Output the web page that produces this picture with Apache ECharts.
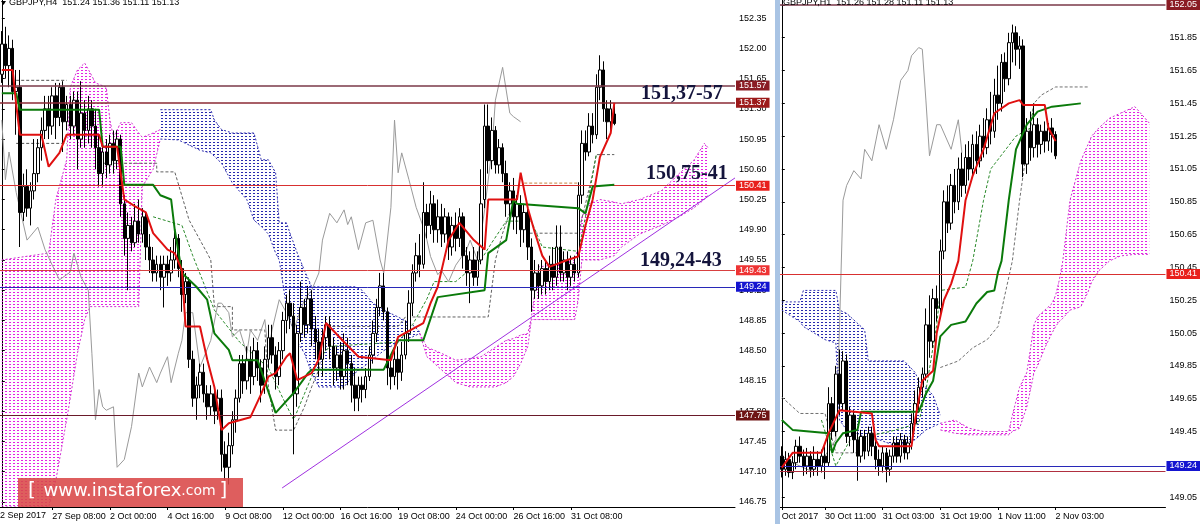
<!DOCTYPE html>
<html><head><meta charset="utf-8">
<script src="https://cdn.jsdelivr.net/npm/echarts@6/dist/echarts.min.js"></script>
<style>html,body{margin:0;padding:0;background:#fff;overflow:hidden}#c{width:1200px;height:524px}</style>
</head><body><div id="c"></div>
<script>
// ---------------- LEFT PANEL (GBPJPY H4) ----------------
const leftBarCount = 204;
const leftFirstLabel = '22 Sep 2017';
const leftTickIdx = [14, 30, 46, 62, 78, 94, 110, 126, 142, 158];
const leftTickText = ['27 Sep 08:00', '2 Oct 00:00', '4 Oct 16:00', '9 Oct 08:00', '12 Oct 00:00', '16 Oct 16:00', '19 Oct 08:00', '24 Oct 00:00', '26 Oct 16:00', '31 Oct 08:00'];
const leftPriceTicks = [152.35, 152.00, 151.65, 151.30, 150.95, 150.60, 150.25, 149.90, 149.55, 149.20, 148.85, 148.50, 148.15, 147.80, 147.45, 147.10, 146.75];
// [open, close, low, high]
const leftCandles = [
[151.70,152.05,151.60,152.20],[152.05,151.80,151.65,152.25],[151.80,152.00,151.55,152.15],[152.00,151.50,151.40,152.10],[151.50,151.55,151.00,151.75],
[151.55,150.10,149.70,151.75],[150.10,150.40,150.00,150.55],[150.40,150.15,150.05,150.60],[150.15,150.35,149.95,150.45],[150.35,150.55,150.25,150.95],
[150.55,150.85,150.45,150.95],[150.85,151.05,150.70,151.20],[151.05,151.30,150.95,151.45],[151.30,151.10,150.95,151.45],[151.10,151.45,151.00,151.55],
[151.45,151.20,150.95,151.60],[151.20,151.55,151.10,151.60],[151.55,151.15,150.80,151.62],[151.15,151.35,151.05,151.45],[151.35,151.10,150.95,151.45],
[151.10,151.40,151.00,151.50],[151.40,150.95,150.60,151.50],[150.95,151.25,150.85,151.62],[151.25,151.05,150.85,151.40],[151.05,151.30,150.90,151.45],
[151.30,151.10,150.85,151.40],[151.10,150.85,150.60,151.30],[150.85,150.55,150.40,151.00],[150.55,150.80,150.40,150.90],[150.80,150.65,150.50,150.95],
[150.65,150.90,150.55,151.00],[150.90,150.70,150.55,151.05],[150.70,150.95,150.60,151.05],[150.95,150.20,150.05,151.00],[150.20,149.80,149.60,150.30],
[149.80,149.95,149.20,150.10],[149.95,149.75,149.65,150.05],[149.75,150.00,149.70,150.20],[150.00,149.85,149.75,150.25],[149.85,150.05,149.75,150.15],
[150.05,149.70,149.55,150.10],[149.70,149.55,149.40,149.85],[149.55,149.40,149.30,149.70],[149.40,149.50,149.30,149.60],[149.50,149.35,149.20,149.60],
[149.35,149.50,149.00,149.60],[149.50,149.40,149.25,149.60],[149.40,149.55,149.30,149.70],[149.55,149.80,149.45,149.90],[149.80,149.45,149.35,149.85],
[149.45,149.15,148.95,149.55],[149.15,149.30,149.05,149.40],[149.30,148.40,148.30,149.35],[148.40,147.95,147.85,148.50],[147.95,148.10,147.70,148.20],
[148.10,148.25,147.95,148.35],[148.25,148.00,147.90,148.35],[148.00,147.85,147.70,148.10],[147.85,148.00,147.75,148.10],[148.00,147.80,147.65,148.05],
[147.80,147.95,147.70,148.05],[147.95,147.30,147.10,148.05],[147.30,147.15,147.00,147.45],[147.15,147.40,146.95,147.55],[147.40,147.70,147.30,147.80],
[147.70,147.95,147.55,148.05],[147.95,148.35,147.90,148.45],[148.35,148.15,148.00,148.45],[148.15,148.40,148.05,148.55],[148.40,148.20,148.00,148.55],
[148.20,148.50,148.10,148.65],[148.50,148.30,148.15,148.60],[148.30,148.10,147.90,148.40],[148.10,148.40,148.00,148.55],[148.40,148.65,148.30,148.80],
[148.65,148.45,148.35,148.80],[148.45,148.20,148.05,148.55],[148.20,148.50,148.10,148.60],[148.50,148.85,148.40,148.95],[148.85,149.05,148.70,149.15],
[149.05,148.90,148.75,149.20],[148.90,148.00,147.30,149.05],[148.00,148.70,147.85,148.80],[148.70,149.00,148.60,149.30],[149.00,148.80,148.65,149.10],
[148.80,149.10,148.70,149.25],[149.10,148.75,148.55,149.20],[148.75,148.60,148.40,148.90],[148.60,148.40,148.20,148.75],[148.40,148.65,148.20,148.75],
[148.65,148.80,148.50,148.90],[148.80,148.55,148.40,148.90],[148.55,148.30,148.10,148.65],[148.30,148.45,148.15,148.55],[148.45,148.20,148.05,148.60],
[148.20,148.50,148.05,148.70],[148.50,148.35,148.10,148.65],[148.35,148.10,147.90,148.45],[148.10,147.95,147.80,148.30],[147.95,148.10,147.80,148.20],
[148.10,148.05,147.90,148.20],[148.05,148.20,147.95,148.30],[148.20,148.45,148.15,148.55],[148.45,148.70,148.35,148.85],[148.70,149.00,148.60,149.10],
[149.00,149.25,148.90,149.40],[149.25,148.95,148.85,149.40],[148.95,148.30,148.10,149.00],[148.30,148.20,148.05,148.45],[148.20,148.40,148.10,148.50],
[148.40,148.25,148.05,148.55],[148.25,148.45,148.15,148.60],[148.45,148.70,148.40,148.85],[148.70,149.05,148.60,149.20],[149.05,149.40,148.90,149.50],
[149.40,149.60,149.30,149.75],[149.60,149.50,149.35,149.85],[149.50,150.10,149.45,150.45],[150.10,149.95,149.80,150.20],[149.95,150.20,149.85,150.35],
[150.20,149.90,149.75,150.30],[149.90,150.05,149.75,150.25],[150.05,149.85,149.70,150.20],[149.85,150.05,149.75,150.15],[150.05,149.70,149.55,150.10],
[149.70,149.95,149.60,150.05],[149.95,149.80,149.65,150.10],[149.80,150.05,149.70,150.15],[150.05,149.60,149.45,150.10],[149.60,149.40,149.25,149.70],
[149.40,149.55,149.05,149.65],[149.55,149.35,149.25,149.70],[149.35,149.55,149.25,149.65],[149.55,150.20,149.50,150.60],[150.25,151.10,150.15,151.35],
[151.10,150.70,150.55,151.35],[150.70,151.05,150.60,151.20],[151.05,150.65,150.55,151.10],[150.65,150.85,150.55,150.95],[150.85,150.55,150.45,150.90],
[150.55,150.20,150.05,150.70],[150.20,150.35,150.05,150.45],[150.35,150.05,149.90,150.50],[150.05,150.20,149.85,150.30],[150.20,149.90,149.70,150.30],
[149.90,150.10,149.75,150.20],[150.10,149.70,149.55,150.15],[149.70,149.20,148.95,149.80],[149.20,149.40,149.10,149.55],[149.40,149.25,149.10,149.50],
[149.25,149.45,149.15,149.55],[149.45,149.30,149.15,149.55],[149.30,149.50,149.20,149.60],[149.50,149.35,149.20,149.70],[149.35,149.70,149.25,149.95],
[149.70,149.40,149.30,149.95],[149.40,149.55,149.30,149.65],[149.55,149.35,149.20,149.65],[149.35,149.50,149.25,149.60],[149.50,149.40,149.30,149.60],
[149.40,150.30,149.35,150.45],[150.30,150.90,150.20,151.05],[150.90,150.80,150.70,151.05],[150.80,151.10,150.75,151.25],[151.10,151.00,150.90,151.25],
[151.00,151.55,150.95,151.70],[151.55,151.75,151.40,151.92],[151.75,151.30,151.15,151.85],[151.30,151.15,150.95,151.40],[151.15,151.30,151.05,151.40],
[151.24,151.13,151.11,151.36]
];
// [barIndex, price]
const leftTenkan = [[0,151.75],[3,151.75],[4,151.35],[5,151.00],[11,151.00],[13,150.63],[16,150.79],[18,151.00],[27,151.00],[28,150.86],[32,150.86],[34,150.25],[37,150.17],[40,150.10],[42,149.86],[46,149.67],[48,149.63],[50,149.43],[51,148.78],[55,148.78],[57,148.40],[59,148.08],[61,147.58],[63,147.66],[69,147.73],[72,148.00],[74,148.20],[76,148.24],[79,148.43],[80,148.47],[82,148.16],[86,148.24],[88,148.40],[90,148.82],[95,148.60],[99,148.43],[108,148.39],[110,148.66],[117,148.82],[119,149.05],[121,149.24],[124,149.78],[127,149.98],[131,149.78],[134,149.67],[135,150.25],[143,150.25],[144,150.56],[146,150.15],[148,149.86],[150,149.60],[152,149.47],[157,149.55],[160,149.59],[162,149.95],[164,150.25],[166,150.74],[169,151.02],[170,151.37]];
const leftKijun = [[0,151.48],[4,151.48],[5,151.29],[27,151.29],[28,150.86],[33,150.86],[34,150.42],[42,150.42],[44,150.30],[47,150.25],[48,149.90],[50,149.40],[54,149.24],[57,149.09],[59,148.70],[63,148.51],[64,148.39],[71,148.39],[76,147.78],[81,148.01],[85,148.24],[86,148.28],[106,148.28],[110,148.62],[117,148.62],[121,149.12],[134,149.20],[135,149.63],[140,149.78],[142,150.25],[143,150.20],[160,150.15],[162,150.09],[164,150.40],[170,150.42]];
const leftChikou = [[0,151.17],[1,150.48],[2,150.80],[4,150.33],[7,149.78],[10,149.93],[12,149.67],[14,149.49],[16,149.32],[19,149.41],[20,149.63],[22,149.35],[24,149.20],[25,148.47],[26,147.70],[27,148.05],[28,147.85],[29,147.81],[31,147.85],[32,147.15],[34,147.24],[36,147.62],[38,148.24],[39,148.08],[41,148.31],[43,148.13],[44,148.24],[46,148.43],[47,148.13],[49,148.47],[50,148.62],[51,148.94],[53,148.94],[55,148.31],[58,148.62],[60,149.05],[61,149.05],[63,148.94],[64,148.66],[66,148.74],[68,148.47],[69,148.74],[71,148.62],[73,148.86],[74,148.47],[75,148.74],[77,149.09],[79,148.94],[81,148.74],[84,149.09],[86,149.20],[88,149.40],[89,149.78],[91,150.09],[93,149.98],[95,150.13],[96,149.96],[97,150.05],[99,149.67],[101,149.98],[103,150.01],[105,149.55],[106,149.40],[108,150.16],[109,151.17],[110,150.56],[111,150.79],[113,150.48],[115,150.16],[117,149.93],[118,149.78],[119,149.59],[121,149.38],[122,149.43],[124,149.30],[126,149.49],[129,149.67],[130,149.78],[132,149.55],[134,150.13],[136,150.82],[137,151.40],[139,151.78],[141,151.25],[142,151.21],[144,151.15]];
// thin dashed helper lines
const leftDashGrayA = [[4,151.63],[18,151.63]];
const leftDashGrayB = [[4,150.90],[18,150.90]];
const leftDashGrayC = [[27,150.67],[43,150.67],[43,150.57],[48,150.57],[52,150.01],[57,149.63],[58,149.55],[59,149.01],[64,149.01],[64,148.74],[73,148.74],[74,148.08],[76,147.58],[81,147.58],[84,147.85],[86,148.08],[88,148.28],[90,148.78],[110,148.78],[112,148.89],[135,148.89],[137,149.55],[139,149.86],[141,150.10],[145,150.10],[146,149.86],[160,149.86],[162,150.20],[164,150.55],[165,150.77],[170,150.77]];
const leftDashGreen = [[42,150.05],[50,149.95],[53,149.60],[59,148.97],[66,148.60],[74,148.30],[78,147.95],[81,147.70],[84,148.00],[88,148.40],[91,148.55],[110,148.60],[114,148.80],[118,149.10],[120,149.30],[126,149.30],[133,149.55],[136,149.75],[140,150.00],[147,150.00],[150,149.70],[160,149.65],[162,150.05],[163,150.30],[165,150.77]];
const leftDashOrange = [[145,150.44],[160,150.44]];
// clouds: [barIndex, upper, lower]
const leftCloudPink1 = [[0,149.55,146.69],[13,149.63,146.69],[15,150.25,147.00],[18,150.71,147.70],[19,151.55,147.95],[21,151.75,148.47],[23,151.83,148.86],[24.5,151.72,149.01],[26,151.60,149.01],[29,151.55,149.01],[30,151.17,149.01],[31,150.97,149.01],[33,151.14,149.01],[36,151.14,149.01],[38,151.02,149.01],[39,150.97,150.40],[42,151.02,150.60],[44,151.06,150.95]];
const leftCloudBlue1 = [[44,151.29,150.95],[49,151.29,150.94],[55,151.29,150.82],[58,151.29,150.79],[59,151.17,150.75],[61,151.06,150.67],[64,151.02,150.44],[68,151.02,150.25],[70,151.02,150.01],[72,150.71,149.94],[74,150.71,149.85],[76,150.56,149.63],[77,149.98,149.55],[79,149.98,149.01],[80,149.86,148.85],[82,149.63,148.60],[84,149.43,148.47],[86,149.24,148.24],[88,149.24,148.08],[95,149.24,148.08],[98,149.24,148.24],[100,149.20,148.30],[103,149.05,148.40],[106,148.97,148.50],[110,148.89,148.60],[114,148.80,148.66],[116,148.72,148.70]];
const leftCloudPink2 = [[116,148.70,148.70],[118,148.54,148.43],[122,148.47,148.28],[126,148.39,148.13],[130,148.41,148.08],[133,148.43,148.08],[137,148.54,148.08],[140,148.62,148.13],[142,148.64,148.20],[144,148.68,148.35],[146,148.70,148.55],[147,148.89,148.86],[148,149.20,148.86],[149,149.47,148.86],[155,149.50,148.86],[159,149.55,148.86],[160,149.70,149.09],[161,150.05,149.55],[163,150.20,149.55],[166,150.25,149.55],[170,150.22,149.60],[172,150.20,149.70],[177,150.25,149.85],[183,150.35,149.95],[188,150.55,150.05],[192,150.70,150.15],[195,150.90,150.25],[196,150.85,150.30]];
const leftTrend = [[77.8,146.91],[203.5,150.50]];

// ---------------- RIGHT PANEL (GBPJPY H1) ----------------
const rightBarCount = 107;
const rightTickIdx = [0, 12, 28, 44, 60, 76];
const rightTickText = ['Oct 2017', '30 Oct 11:00', '31 Oct 03:00', '31 Oct 19:00', '1 Nov 11:00', '2 Nov 03:00'];
const rightPriceTicks = [152.05, 151.85, 151.65, 151.45, 151.25, 151.05, 150.85, 150.65, 150.45, 150.25, 150.05, 149.85, 149.65, 149.45, 149.25, 149.05];
const rightCandles = [
[149.30,149.22,149.17,149.36],[149.22,149.28,149.18,149.33],[149.28,149.20,149.17,149.32],[149.20,149.26,149.16,149.30],[149.26,149.36,149.22,149.40],
[149.36,149.30,149.26,149.42],[149.30,149.24,149.18,149.34],[149.24,149.30,149.19,149.35],[149.30,149.22,149.17,149.33],[149.22,149.28,149.18,149.36],
[149.28,149.24,149.18,149.33],[149.24,149.30,149.20,149.34],[149.30,149.26,149.16,149.36],[149.26,149.62,149.24,149.72],[149.62,149.45,149.40,149.66],
[149.45,149.80,149.42,149.85],[149.80,149.62,149.55,149.95],[149.62,149.88,149.58,149.94],[149.88,149.42,149.38,149.92],[149.42,149.55,149.36,149.60],
[149.55,149.40,149.32,149.58],[149.40,149.30,149.15,149.45],[149.30,149.42,149.26,149.46],[149.42,149.33,149.28,149.46],[149.33,149.44,149.30,149.48],
[149.44,149.36,149.30,149.48],[149.36,149.28,149.22,149.40],[149.28,149.24,149.18,149.34],[149.24,149.32,149.20,149.36],[149.32,149.22,149.14,149.35],
[149.22,149.30,149.18,149.34],[149.30,149.38,149.26,149.42],[149.38,149.30,149.26,149.42],[149.30,149.40,149.26,149.44],[149.40,149.32,149.28,149.43],
[149.32,149.38,149.28,149.42],[149.38,149.50,149.34,149.56],[149.50,149.62,149.46,149.70],[149.62,149.72,149.58,149.78],[149.72,149.80,149.66,149.84],
[149.80,150.10,149.76,150.20],[150.10,150.00,149.90,150.28],[150.00,150.26,149.96,150.32],[150.26,150.20,150.12,150.34],[150.20,150.55,150.16,150.62],
[150.55,150.85,150.50,150.92],[150.85,150.72,150.66,150.95],[150.72,150.95,150.68,151.02],[150.95,150.85,150.78,151.05],[150.85,151.05,150.80,151.12],
[151.05,150.95,150.88,151.15],[150.95,151.12,150.90,151.20],[151.12,151.05,150.98,151.22],[151.05,151.20,151.00,151.26],[151.20,151.10,151.02,151.28],
[151.10,151.25,151.06,151.32],[151.25,151.18,151.12,151.36],[151.18,151.35,151.14,151.42],[151.35,151.28,151.20,151.52],[151.28,151.50,151.24,151.60],
[151.50,151.45,151.35,151.68],[151.45,151.70,151.40,151.75],[151.70,151.60,151.52,151.76],[151.60,151.82,151.56,151.88],[151.82,151.88,151.70,151.93],
[151.88,151.78,151.68,151.92],[151.78,151.80,151.66,151.86],[151.80,151.08,151.00,151.84],[151.08,151.28,151.02,151.36],[151.28,151.18,151.10,151.40],
[151.18,151.32,151.12,151.45],[151.32,151.20,151.12,151.36],[151.20,151.28,151.14,151.32],[151.28,151.22,151.15,151.34],[151.22,151.30,151.16,151.33],
[151.30,151.26,151.15,151.36],[151.26,151.13,151.11,151.28]
];
const rightTenkan = [[0,149.23],[3,149.32],[11,149.32],[13,149.44],[16,149.58],[25,149.56],[26,149.40],[27,149.36],[36,149.36],[37,149.52],[39,149.76],[42,149.82],[43,150.05],[45,150.25],[47,150.35],[49,150.49],[51,150.86],[53,151.01],[56,151.17],[59,151.39],[63,151.45],[66,151.47],[67,151.44],[73,151.44],[74,151.30],[76,151.22]];
const rightKijun = [[0,149.52],[3,149.46],[13,149.44],[14,149.32],[15,149.38],[17,149.44],[21,149.46],[22,149.57],[38,149.57],[40,149.68],[42,149.76],[44,150.03],[47,150.10],[51,150.12],[54,150.23],[57,150.30],[59,150.31],[60,150.42],[61,150.49],[63,150.86],[65,151.17],[68,151.32],[71,151.40],[75,151.43],[83,151.45]];
const rightChikou = [[0,149.30],[4,149.25],[8,149.21],[11,149.27],[15,149.40],[16,150.07],[17,150.86],[18,150.95],[20,151.04],[22,150.99],[23,151.17],[25,151.10],[27,151.32],[29,151.17],[31,151.35],[33,151.59],[35,151.65],[36,151.74],[38,151.79],[39,151.78],[40,151.47],[41,151.13],[43,151.32],[44,151.32],[47,151.17],[49,151.35],[50,151.15]];
const rightDashGrayA = [[0,149.66],[5,149.56],[12,149.56],[15,149.32],[23,149.32]];
const rightDashGrayB = [[44,149.84],[49,149.88],[53,149.96],[57,150.01],[60,150.09],[64,150.49],[66,150.86],[68,151.17],[70,151.45],[72,151.50],[76,151.55],[85,151.55]];
const rightDashGreen = [[11,149.52],[15,149.24],[19,149.40],[30,149.45],[38,149.50],[40,149.70],[43,150.10],[44,150.31],[51,150.33],[53,150.49],[56,150.86],[58,151.05],[65,151.25],[69,151.30],[70,151.45]];
const rightCloudBlue = [[0,150.24,150.19],[5,150.24,150.12],[6,150.31,150.09],[12,150.31,150.01],[15,150.31,149.99],[16,150.19,149.52],[18,150.17,149.46],[23,150.07,149.42],[24,149.88,149.42],[27,149.88,149.40],[32,149.88,149.36],[34,149.88,149.38],[37,149.81,149.40],[38,149.76,149.42],[40,149.72,149.46],[42,149.67,149.48],[44,149.55,149.50]];
const rightCloudPink = [[44,149.50,149.46],[48,149.52,149.44],[52,149.47,149.43],[56,149.45,149.43],[63,149.45,149.43],[64,149.55,149.45],[66,149.72,149.47],[68,149.81,149.60],[69,149.95,149.70],[70,150.10,149.81],[71,150.15,149.85],[73,150.19,149.96],[75,150.23,150.05],[76,150.28,150.09],[77,150.37,150.12],[78,150.49,150.14],[80,150.86,150.19],[83,151.10,150.21],[85,151.20,150.30],[86,151.25,150.36],[88,151.30,150.43],[91,151.36,150.49],[94,151.39,150.52],[98,151.43,150.53],[100,151.38,150.53],[102,151.33,150.53]];

// ---------------- helpers ----------------
function dotPattern(color) {
  const c = document.createElement('canvas');
  c.width = 4; c.height = 3;
  const g = c.getContext('2d');
  g.fillStyle = color;
  g.fillRect(1, 1, 2, 1);
  return c;
}
const pinkPat = dotPattern('rgba(228,20,228,0.95)');
const bluePat = dotPattern('rgba(30,30,170,0.95)');

function cloudSeries(regions, xIdx, yIdx, color, pat) {
  return {
    type: 'custom', xAxisIndex: xIdx, yAxisIndex: yIdx, clip: true, silent: true, z: 1,
    data: regions.map(r => [r[0][0], r[0][1]]),
    renderItem: function (params, api) {
      const reg = regions[params.dataIndex];
      const top = reg.map(p => api.coord([p[0], p[1]]));
      const bot = reg.map(p => api.coord([p[0], p[2]]));
      const poly = top.concat(bot.slice().reverse());
      return { type: 'group', children: [
        { type: 'polygon', shape: { points: poly }, style: { fill: { image: pat, repeat: 'repeat' }, stroke: null } },
        { type: 'polyline', shape: { points: top }, style: { stroke: color, lineWidth: 1, lineDash: [2, 2], fill: null } },
        { type: 'polyline', shape: { points: bot }, style: { stroke: color, lineWidth: 1, lineDash: [2, 2], fill: null } }
      ]};
    }
  };
}
function lineSeries(data, xIdx, yIdx, color, width, extra) {
  return Object.assign({ type: 'line', xAxisIndex: xIdx, yAxisIndex: yIdx, data: data, symbol: 'none', silent: true,
    lineStyle: { color: color, width: width }, z: 3, animation: false }, extra || {});
}
function dashSeries(data, xIdx, yIdx, color) {
  return lineSeries(data, xIdx, yIdx, color, 1, { lineStyle: { color: color, width: 1, type: [3, 2] }, z: 2 });
}
function levelLine(v, lineColor, boxColor, text, hideLine, w) {
  const o = { yAxis: v, lineStyle: { color: lineColor, width: w || 1, type: 'solid', opacity: hideLine ? 0 : 1 } };
  if (text) {
    o.label = { show: true, position: 'end', formatter: text, color: '#fff', backgroundColor: boxColor,
      padding: [1, 3, 0, 3], fontSize: 9, fontFamily: 'Liberation Sans', distance: 1 };
  } else {
    o.label = { show: false };
  }
  return o;
}
function catNames(n) { const a = []; for (let i = 0; i < n; i++) a.push('b' + i); return a; }

const FONT = 'Liberation Sans';
const leftMap = {}; leftTickIdx.forEach((k, j) => leftMap[k] = leftTickText[j]);
const rightMap = {}; rightTickIdx.forEach((k, j) => rightMap[k] = rightTickText[j]);

function catAxis(grid, n, map) {
  return {
    type: 'category', gridIndex: grid, data: catNames(n), boundaryGap: true,
    axisLine: { show: true, lineStyle: { color: '#000', width: 1 } },
    axisTick: { show: true, alignWithLabel: true, length: 3, interval: (i) => map[i] !== undefined, lineStyle: { color: '#000' } },
    axisLabel: { show: true, interval: (i) => map[i] !== undefined, formatter: (v, i) => map[i] || '',
      align: 'left', margin: 5, fontSize: 9, fontFamily: FONT, color: '#000', hideOverlap: false },
    splitLine: { show: false }
  };
}
function valAxisX(grid, n) {
  return { type: 'value', gridIndex: grid, min: -0.5, max: n - 0.5, show: false };
}
function priceAxis(grid, min, max, ticks) {
  return {
    type: 'value', gridIndex: grid, position: 'right', min: min, max: max, scale: true,
    axisLine: { show: true, lineStyle: { color: '#000', width: 1 } },
    axisTick: { show: true, length: 3, customValues: ticks, lineStyle: { color: '#000' } },
    axisLabel: { show: true, customValues: ticks, formatter: v => v.toFixed(2), margin: 4,
      fontSize: 9, fontFamily: FONT, color: '#000' },
    splitLine: { show: false }
  };
}

const candleStyle = { color: '#ffffff', color0: '#000000', borderColor: '#000000', borderColor0: '#000000', borderWidth: 1 };

const option = {
  animation: false,
  backgroundColor: '#ffffff',
  grid: [
    { left: 0, top: 0, width: 735, height: 507 },
    { left: 780, top: 0, width: 386, height: 507 }
  ],
  xAxis: [catAxis(0, leftBarCount, leftMap), valAxisX(0, leftBarCount), catAxis(1, rightBarCount, rightMap), valAxisX(1, rightBarCount)],
  yAxis: [priceAxis(0, 146.69, 152.56, leftPriceTicks), priceAxis(1, 148.99, 152.08, rightPriceTicks)],
  series: [
    cloudSeries([leftCloudPink1, leftCloudPink2], 1, 0, '#d030d0', pinkPat),
    cloudSeries([leftCloudBlue1], 1, 0, '#3030b0', bluePat),
    cloudSeries([rightCloudPink], 3, 1, '#d030d0', pinkPat),
    cloudSeries([rightCloudBlue], 3, 1, '#3030b0', bluePat),
    dashSeries(leftDashGrayA, 1, 0, '#505050'),
    dashSeries(leftDashGrayB, 1, 0, '#505050'),
    dashSeries(leftDashGrayC, 1, 0, '#606060'),
    dashSeries(leftDashGreen, 1, 0, '#2a8a2a'),
    dashSeries(leftDashOrange, 1, 0, '#c8803c'),
    dashSeries(rightDashGrayA, 3, 1, '#707070'),
    dashSeries(rightDashGrayB, 3, 1, '#707070'),
    dashSeries(rightDashGreen, 3, 1, '#2a8a2a'),
    lineSeries(leftChikou, 1, 0, '#9a9a9a', 1, {
      markLine: { silent: true, symbol: 'none', animation: false, data: [
        levelLine(151.57, '#7a3848', '#8a1c24', '151.57', false, 1.5),
        levelLine(151.37, '#8b2a35', '#9c1a1a', '151.37', false, 1.5),
        levelLine(151.13, '#000', '#000000', '151.13', true),
        levelLine(150.41, '#d83030', '#e8201c', '150.41'),
        levelLine(149.43, '#d84040', '#ee3434', '149.43'),
        levelLine(149.24, '#2828b8', '#1515d0', '149.24'),
        levelLine(147.75, '#6a1a2a', '#6e1414', '147.75')
      ] }
    }),
    lineSeries(rightChikou, 3, 1, '#9a9a9a', 1, {
      markLine: { silent: true, symbol: 'none', animation: false, data: [
        levelLine(152.05, '#7a3848', '#8a1c24', '152.05', false, 1.5),
        levelLine(151.13, '#000', '#000000', '151.13', true),
        levelLine(150.41, '#d83030', '#e8201c', '150.41'),
        levelLine(149.21, '#b03040', null, null),
        levelLine(149.24, '#2828b8', '#1515d0', '149.24')
      ] }
    }),
    lineSeries(leftTrend, 1, 0, '#a030e0', 1),
    { type: 'candlestick', xAxisIndex: 0, yAxisIndex: 0, data: leftCandles, barWidth: 3, itemStyle: candleStyle, z: 4, silent: true },
    { type: 'candlestick', xAxisIndex: 2, yAxisIndex: 1, data: rightCandles, barWidth: 3, itemStyle: candleStyle, z: 4, silent: true },
    lineSeries(leftKijun, 1, 0, '#0a7a0a', 2, { z: 5 }),
    lineSeries(leftTenkan, 1, 0, '#e01010', 2, { z: 6 }),
    lineSeries(rightKijun, 3, 1, '#0a7a0a', 2, { z: 5 }),
    lineSeries(rightTenkan, 3, 1, '#e01010', 2, { z: 6 })
  ],
  graphic: [
    { type: 'rect', shape: { x: 775, y: 0, width: 5, height: 524 }, style: { fill: '#a9c4e4' }, z: 10 },
    { type: 'polygon', shape: { points: [[1, 1], [6, 1], [3.5, 5]] }, style: { fill: '#000' }, z: 10 },
    { type: 'text', x: 9, y: -2, style: { text: 'GBPJPY,H4  151.24 151.36 151.11 151.13', fontSize: 9, fontFamily: FONT, fill: '#000' }, z: 10 },
    { type: 'text', x: 783, y: -2, style: { text: 'GBPJPY,H1  151.26 151.28 151.11 151.13', fontSize: 9, fontFamily: FONT, fill: '#000' }, z: 10 },
    { type: 'text', x: -5, y: 511, style: { text: leftFirstLabel, fontSize: 9, fontFamily: FONT, fill: '#000' }, z: 10 },
    { type: 'text', x: 641, y: 84, style: { text: '151,37-57', fontSize: 20, fontWeight: 'bold', fontFamily: 'Liberation Serif', fill: '#14143c' }, z: 10 },
    { type: 'text', x: 646, y: 164, style: { text: '150,75-41', fontSize: 20, fontWeight: 'bold', fontFamily: 'Liberation Serif', fill: '#14143c' }, z: 10 },
    { type: 'text', x: 640, y: 251, style: { text: '149,24-43', fontSize: 20, fontWeight: 'bold', fontFamily: 'Liberation Serif', fill: '#14143c' }, z: 10 },
    { type: 'rect', shape: { x: 18, y: 478, width: 225, height: 29 }, style: { fill: 'rgba(218,72,72,0.88)' }, z: 10 },
    { type: 'text', x: 28, y: 481, style: { text: '{b|[}  {a|www.instaforex}{c|.com} {b|]}', fill: '#fff', fontFamily: 'DejaVu Sans',
        rich: { a: { fontSize: 18, fill: '#fff', fontFamily: 'DejaVu Sans' }, b: { fontSize: 20, fill: '#fff', fontFamily: 'DejaVu Sans' }, c: { fontSize: 14, fill: '#fff', fontFamily: 'DejaVu Sans' } } }, z: 11 }
  ]
};

const chart = echarts.init(document.getElementById('c'), null, { renderer: 'canvas' });
chart.setOption(option);
</script>
</body></html>
